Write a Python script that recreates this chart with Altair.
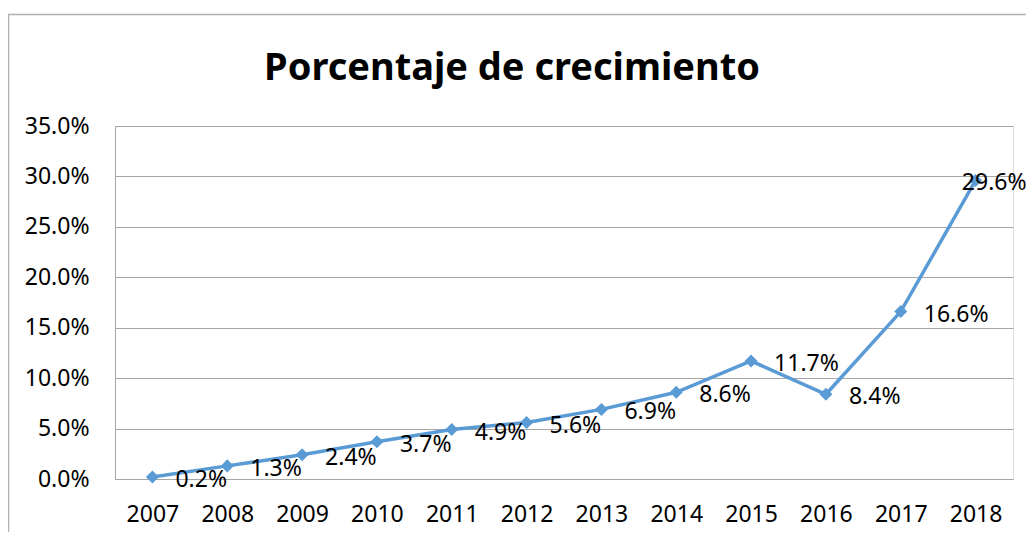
import altair as alt
import pandas as pd

years = ["2007", "2008", "2009", "2010", "2011", "2012", "2013", "2014", "2015", "2016", "2017", "2018"]
values = [0.2, 1.3, 2.4, 3.7, 4.9, 5.6, 6.9, 8.6, 11.7, 8.4, 16.6, 29.6]
y_ticks = [0, 5, 10, 15, 20, 25, 30, 35]
title_text = "Porcentaje de crecimiento"

df = pd.DataFrame({"year": years, "value": [v / 100 for v in values],
                   "label": [f"{v:.1f}%" for v in values]})

FONT = "Noto Sans"
GRID = "#a6a6a6"
BLUE = "#5b9bd5"
FS = 23

x = alt.X("year:O", title=None, sort=years,
          axis=alt.Axis(labelAngle=0, ticks=False, domain=True, domainColor=GRID,
                        labelFontSize=FS, labelFont=FONT, labelColor="#000000",
                        labelPadding=24, grid=False))
y = alt.Y("value:Q", title=None,
          scale=alt.Scale(domain=[0, 0.35], nice=False),
          axis=alt.Axis(format=".1%", values=[t / 100 for t in y_ticks], ticks=False,
                        domain=True, domainColor=GRID, grid=True, gridColor=GRID,
                        labelFontSize=FS, labelFont=FONT, labelColor="#000000",
                        labelPadding=26))

base = alt.Chart(df)

line = base.mark_line(color=BLUE, strokeWidth=3.5).encode(x=x, y=y)
pts = base.mark_point(shape="diamond", filled=True, color=BLUE, size=170, opacity=1).encode(x=x, y=y)
labels = base.transform_filter(alt.datum.year != "2018").mark_text(
    align="left", baseline="middle", dx=23, dy=3, fontSize=FS, font=FONT, color="#000000"
).encode(x=x, y=y, text="label:N")
last_label = base.transform_filter(alt.datum.year == "2018").mark_text(
    align="right", baseline="middle", dx=51, dy=3, fontSize=FS, font=FONT, color="#000000"
).encode(x=x, y=y, text="label:N")

one = alt.Data(values=[{"t": title_text}])
border = alt.Chart(one).mark_rect(
    filled=False, stroke="#b0b0b0", strokeWidth=1.5
).encode(x=alt.value(-106.5), x2=alt.value(940), y=alt.value(-111.5), y2=alt.value(520))
title = alt.Chart(one).mark_text(
    align="center", baseline="alphabetic", fontSize=38, font=FONT, fontWeight="bold", color="#000000"
).encode(x=alt.value(397), y=alt.value(-46), text="t:N")

chart = alt.layer(border, title, line, pts, labels, last_label).properties(
    width=898, height=353,
    autosize=alt.AutoSizeParams(type="none"),
    padding={"left": 107, "top": 118, "right": 13, "bottom": 53},
).configure_view(stroke=None).configure(background="#ffffff")

chart.save("out.html", embed_options={"renderer": "svg", "actions": False})
